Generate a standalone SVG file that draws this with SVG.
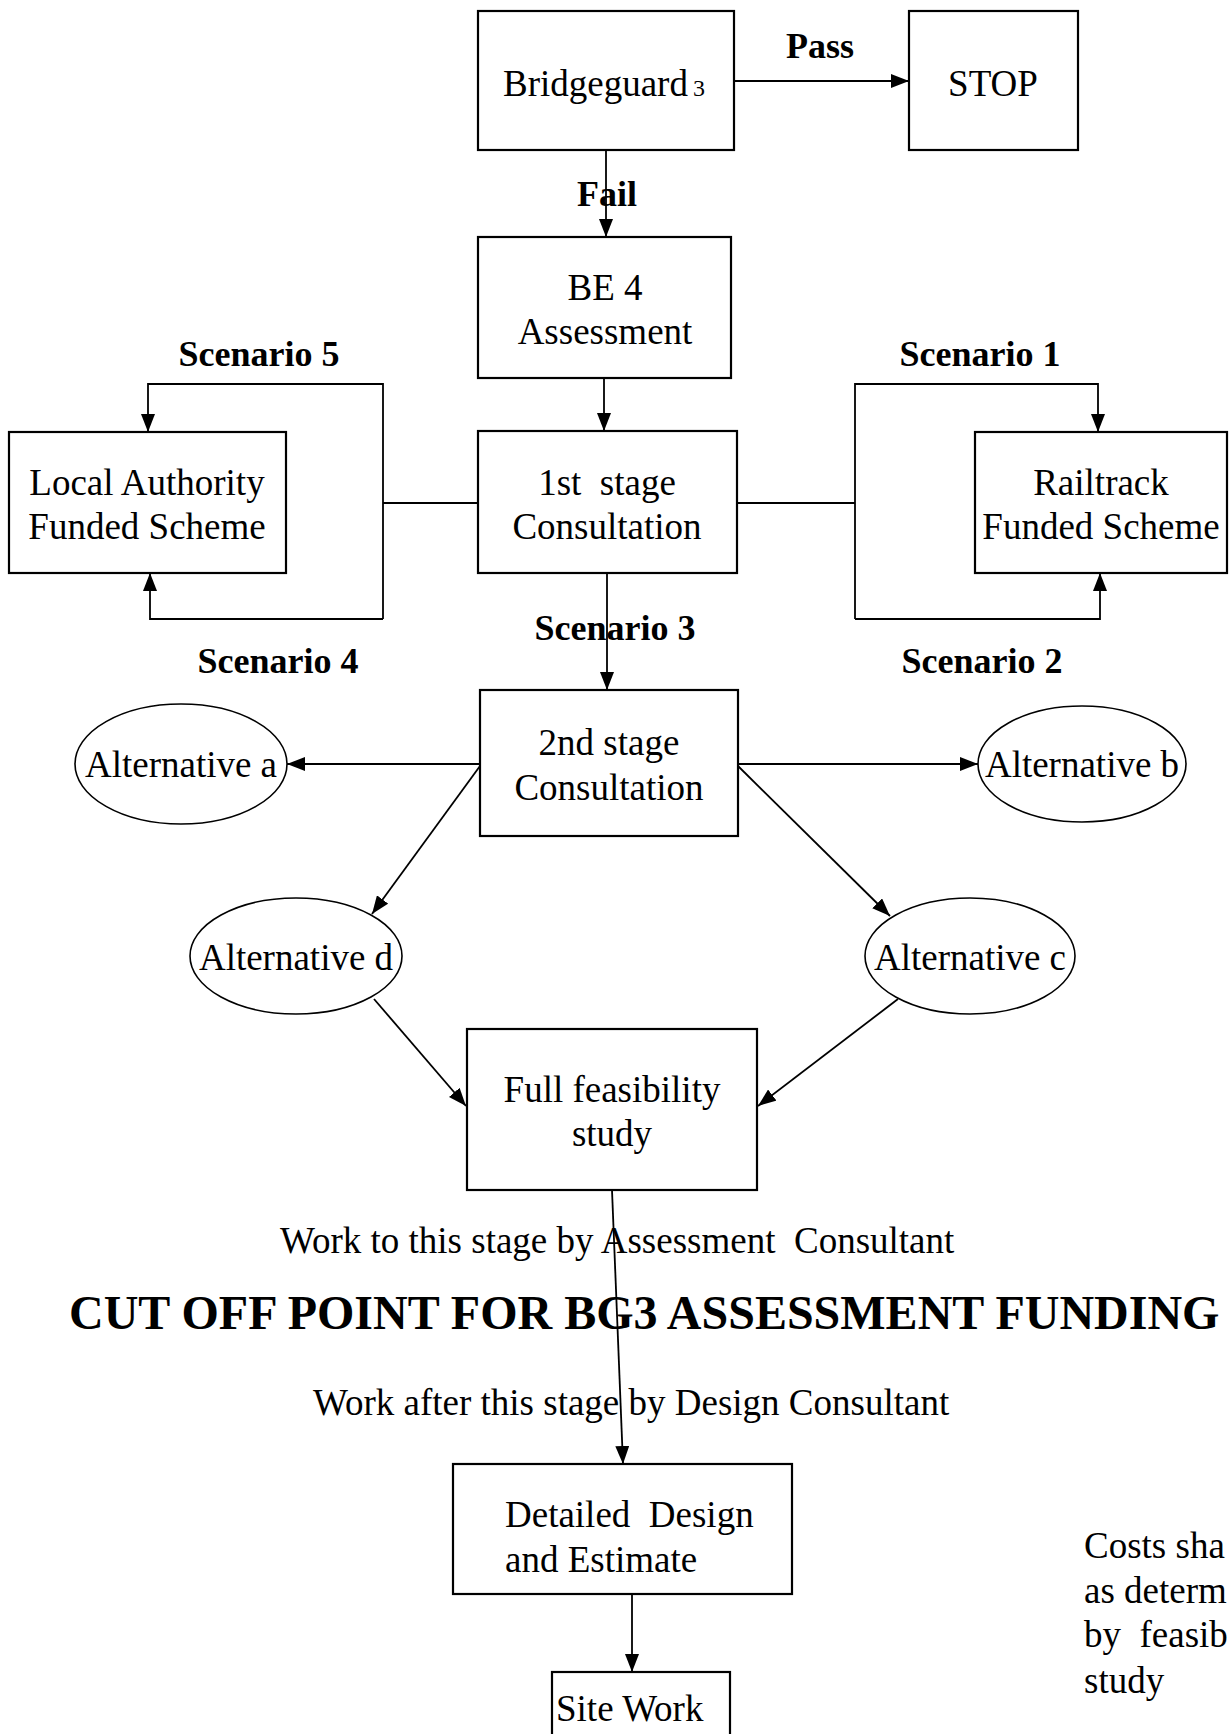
<svg xmlns="http://www.w3.org/2000/svg" width="1230" height="1734" viewBox="0 0 1230 1734">
<style>
text{font-family:"Liberation Serif","Times New Roman",serif;font-size:37px;fill:#000;white-space:pre}
.b{font-weight:bold;font-size:36px}
.c{text-anchor:middle}
.box{fill:#fff;stroke:#000;stroke-width:2.2}
.ell{fill:#fff;stroke:#000;stroke-width:1.6}
.ln{fill:none;stroke:#000;stroke-width:1.8}
.big{font-weight:bold;font-size:48px}
</style>
<defs>
<marker id="ah" viewBox="0 0 18 14" refX="18" refY="7" markerWidth="18" markerHeight="14" markerUnits="userSpaceOnUse" orient="auto"><path d="M0,0 L18,7 L0,14 z" fill="#000"/></marker>
</defs>
<rect width="1230" height="1734" fill="#fff"/>
<g id="connectors">
<line class="ln" x1="734" y1="81" x2="909" y2="81" marker-end="url(#ah)"/>
<line class="ln" x1="606" y1="150" x2="606" y2="237" marker-end="url(#ah)"/>
<line class="ln" x1="604" y1="378" x2="604" y2="431" marker-end="url(#ah)"/>
<line class="ln" x1="478" y1="503" x2="383" y2="503"/>
<polyline class="ln" points="383,619 383,384 148,384 148,432" marker-end="url(#ah)"/>
<polyline class="ln" points="383,619 150,619 150,573" marker-end="url(#ah)"/>
<line class="ln" x1="737" y1="503" x2="855" y2="503"/>
<polyline class="ln" points="855,619 855,384 1098,384 1098,432" marker-end="url(#ah)"/>
<polyline class="ln" points="855,619 1100,619 1100,573" marker-end="url(#ah)"/>
<line class="ln" x1="607" y1="573" x2="607" y2="690" marker-end="url(#ah)"/>
<line class="ln" x1="480" y1="764" x2="287" y2="764" marker-end="url(#ah)"/>
<line class="ln" x1="738" y1="764" x2="978" y2="764" marker-end="url(#ah)"/>
<line class="ln" x1="480" y1="766" x2="372" y2="914" marker-end="url(#ah)"/>
<line class="ln" x1="738" y1="766" x2="890" y2="916" marker-end="url(#ah)"/>
<line class="ln" x1="374" y1="999" x2="466" y2="1106" marker-end="url(#ah)"/>
<line class="ln" x1="898" y1="999" x2="758" y2="1106" marker-end="url(#ah)"/>
<line class="ln" x1="612" y1="1190" x2="623" y2="1464" marker-end="url(#ah)"/>
<line class="ln" x1="632" y1="1594" x2="632" y2="1672" marker-end="url(#ah)"/>
</g>
<g id="labels">
<text class="b c" x="820" y="58">Pass</text>
<text class="b c" x="607" y="206">Fail</text>
<text class="b c" x="259" y="366">Scenario 5</text>
<text class="b c" x="980" y="366">Scenario 1</text>
<text class="b c" x="615" y="640">Scenario 3</text>
<text class="b c" x="278" y="673">Scenario 4</text>
<text class="b c" x="982" y="673">Scenario 2</text>
</g>
<g id="bridgeguard">
<rect class="box" x="478" y="11" width="256" height="139"/>
<text x="503" y="96">Bridgeguard<tspan font-size="24" dx="5">3</tspan></text>
</g>
<g id="stop">
<rect class="box" x="909" y="11" width="169" height="139"/>
<text class="c" x="993" y="96">STOP</text>
</g>
<g id="be4">
<rect class="box" x="478" y="237" width="253" height="141"/>
<text class="c" x="605" y="300">BE 4</text>
<text class="c" x="605" y="344">Assessment</text>
</g>
<g id="stage1">
<rect class="box" x="478" y="431" width="259" height="142"/>
<text class="c" x="607" y="495">1st  stage</text>
<text class="c" x="607" y="539">Consultation</text>
</g>
<g id="local-authority">
<rect class="box" x="9" y="432" width="277" height="141"/>
<text class="c" x="147" y="495">Local Authority</text>
<text class="c" x="147" y="539">Funded Scheme</text>
</g>
<g id="railtrack">
<rect class="box" x="975" y="432" width="252" height="141"/>
<text class="c" x="1101" y="495">Railtrack</text>
<text class="c" x="1101" y="539">Funded Scheme</text>
</g>
<g id="stage2">
<rect class="box" x="480" y="690" width="258" height="146"/>
<text class="c" x="609" y="755">2nd stage</text>
<text class="c" x="609" y="800">Consultation</text>
</g>
<g id="alt-a">
<ellipse class="ell" cx="181" cy="764" rx="106" ry="60"/>
<text class="c" x="181" y="777">Alternative a</text>
</g>
<g id="alt-b">
<ellipse class="ell" cx="1082" cy="764" rx="104" ry="58"/>
<text class="c" x="1082" y="777">Alternative b</text>
</g>
<g id="alt-d">
<ellipse class="ell" cx="296" cy="956" rx="106" ry="58"/>
<text class="c" x="296" y="970">Alternative d</text>
</g>
<g id="alt-c">
<ellipse class="ell" cx="970" cy="956" rx="105" ry="58"/>
<text class="c" x="970" y="970">Alternative c</text>
</g>
<g id="feasibility">
<rect class="box" x="467" y="1029" width="290" height="161"/>
<text class="c" x="612" y="1102">Full feasibility</text>
<text class="c" x="612" y="1146">study</text>
</g>
<g id="notes">
<text x="280" y="1253">Work to this stage by Assessment  Consultant</text>
<text class="big" x="69" y="1329">CUT OFF POINT FOR BG3 ASSESSMENT FUNDING</text>
<text x="313" y="1415">Work after this stage by Design Consultant</text>
<text x="1084" y="1558">Costs sha</text>
<text x="1084" y="1603">as determ</text>
<text x="1084" y="1647">by  feasib</text>
<text x="1084" y="1693">study</text>
</g>
<g id="detailed-design">
<rect class="box" x="453" y="1464" width="339" height="130"/>
<text x="505" y="1527">Detailed  Design</text>
<text x="505" y="1572">and Estimate</text>
</g>
<g id="site-work">
<rect class="box" x="552" y="1672" width="178" height="80"/>
<text x="556" y="1721">Site Work</text>
</g>
</svg>
